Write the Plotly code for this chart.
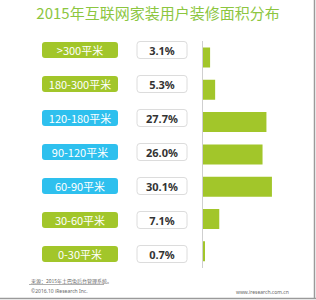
import plotly.graph_objects as go

title = "2015年互联网家装用户装修面积分布"
categories = [">300平米", "180-300平米", "120-180平米", "90-120平米", "60-90平米", "30-60平米", "0-30平米"]
values = [3.1, 5.3, 27.7, 26.0, 30.1, 7.1, 0.7]
label_colors = ["#a2c62a", "#a2c62a", "#2ec0ee", "#2ec0ee", "#2ec0ee", "#a2c62a", "#a2c62a"]
value_labels = [f"{v:.1f}%" for v in values]
rows = list(range(len(categories)))

W, H = 316, 300
FONT = "Noto Sans CJK SC, Noto Sans, sans-serif"

fig = go.Figure()

# Main data bars
fig.add_trace(go.Bar(
    x=values, y=rows, orientation="h",
    marker=dict(color="#a2c62a", line=dict(width=0)),
    width=0.62, xaxis="x", yaxis="y", hoverinfo="skip", showlegend=False,
))

# Category label pills
fig.add_trace(go.Bar(
    x=[76] * len(rows), base=[42] * len(rows), y=rows, orientation="h",
    marker=dict(color=label_colors, line=dict(width=0), cornerradius=3),
    width=0.47, text=categories, textposition="inside", insidetextanchor="middle",
    constraintext="none",
    textfont=dict(color="white", size=11, family=FONT),
    xaxis="x2", yaxis="y2", hoverinfo="skip", showlegend=False,
))

# Value boxes
fig.add_trace(go.Bar(
    x=[50] * len(rows), base=[137] * len(rows), y=rows, orientation="h",
    marker=dict(color="white", line=dict(width=1, color="#dcdcdc"), cornerradius=3),
    width=0.5, text=[f"<b>{t}</b>" for t in value_labels], textposition="inside",
    insidetextanchor="middle", constraintext="none",
    textfont=dict(color="#333333", size=11, family="Noto Sans, sans-serif"),
    xaxis="x2", yaxis="y2", hoverinfo="skip", showlegend=False,
))

fig.update_layout(
    width=W, height=H,
    margin=dict(l=0, r=0, t=0, b=0),
    paper_bgcolor="white", plot_bgcolor="rgba(0,0,0,0)",
    barmode="overlay",
    xaxis=dict(domain=[203 / W, 1], range=[0, 113 / 2.29], visible=False, anchor="y"),
    yaxis=dict(domain=[1 - 267.5 / H, 1 - 41.3 / H], range=[6.5, -0.5], anchor="x",
               showline=True, linecolor="#cfcfcf", linewidth=1, showticklabels=False,
               ticks="", showgrid=False, zeroline=False),
    xaxis2=dict(domain=[0, 1], range=[0, W], visible=False, anchor="y2"),
    yaxis2=dict(domain=[1 - 271 / H, 1 - 33 / H], range=[6.5, -0.5], visible=False, anchor="x2"),
    title=dict(text=title, x=0.5, xanchor="center", y=1 - 13.5 / H, yanchor="middle",
               font=dict(size=15, color="#8cc63f", family=FONT)),
    font=dict(family=FONT),
    shapes=[
        dict(type="line", xref="paper", yref="paper", x0=29 / W, x1=104 / W,
             y0=1 - 284.5 / H, y1=1 - 284.5 / H, line=dict(color="#9a9a9a", width=0.8)),
        dict(type="line", xref="paper", yref="paper", x0=0, x1=1,
             y0=1 - 298.5 / H, y1=1 - 298.5 / H, line=dict(color="#9a9a9a", width=1.5)),
        dict(type="line", xref="paper", yref="paper", x0=1 - 1.5 / W, x1=1 - 1.5 / W,
             y0=1 - 298.5 / H, y1=1, line=dict(color="#9a9a9a", width=1.5)),
    ],
    annotations=[
        dict(text="来源：2015年土巴兔后台管理系统。", xref="paper", yref="paper",
             x=29 / W, y=1 - 281 / H, xanchor="left", yanchor="middle", showarrow=False,
             font=dict(size=5, color="#666666", family=FONT)),
        dict(text="©2016.10 iResearch Inc.", xref="paper", yref="paper",
             x=29 / W, y=1 - 291 / H, xanchor="left", yanchor="middle", showarrow=False,
             font=dict(size=5, color="#666666", family="Noto Sans, sans-serif")),
        dict(text="www.iresearch.com.cn", xref="paper", yref="paper",
             x=291 / W, y=1 - 291.5 / H, xanchor="right", yanchor="middle", showarrow=False,
             font=dict(size=5, color="#666666", family="Noto Sans, sans-serif")),
    ],
)

fig.write_html("out.html")
